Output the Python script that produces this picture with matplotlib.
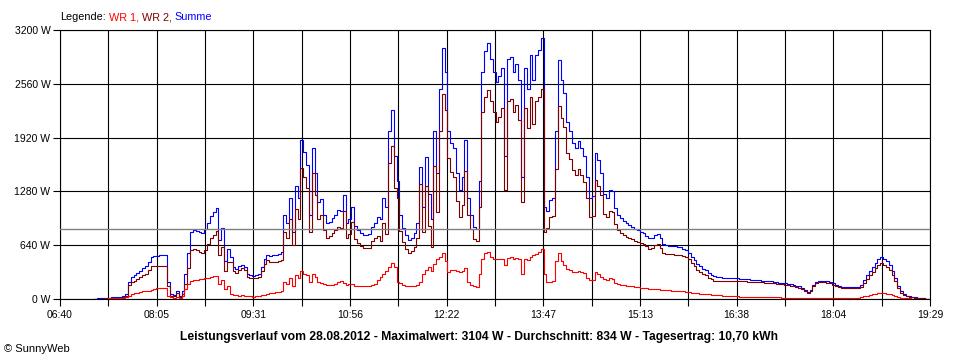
import numpy as np
import matplotlib.pyplot as plt

plt.rcParams['font.family'] = ['Liberation Sans', 'DejaVu Sans']

# Messwerte alle 2,5 Minuten ab 07:10 (eine Zeile = 30 Minuten)
start = 7 * 60 + 10
schritt = 2.5

wr1 = [
    3, 3, 4, 4, 5, 6, 8, 8, 9, 10, 12, 20,
    40, 60, 70, 72, 80, 90, 95, 100, 108, 115, 125, 130,
    130, 130, 40, 20, 15, 20, 15, 40, 120, 180, 220, 230,
    230, 235, 240, 245, 250, 260, 270, 275, 180, 230, 120, 160,
    60, 50, 45, 40, 45, 40, 35, 30, 28, 30, 35, 42,
    50, 60, 70, 75, 80, 83, 100, 200, 180, 250, 160, 280,
    250, 330, 300, 280, 200, 300, 260, 200, 190, 180, 170, 165,
    170, 180, 200, 210, 190, 170, 175, 180, 160, 150, 150, 150,
    150, 160, 170, 180, 230, 260, 300, 330, 380, 430, 380, 200,
    190, 170, 160, 150, 150, 160, 170, 200, 300, 350, 380, 330,
    420, 470, 500, 547, 450, 320, 345, 345, 330, 320, 330, 370,
    200, 170, 150, 145, 300, 470, 550, 560, 500, 480, 470, 480,
    480, 400, 490, 495, 480, 490, 470, 300, 480, 460, 500, 520,
    540, 560, 600, 300, 200, 200, 210, 450, 547, 450, 400, 360,
    340, 320, 320, 330, 320, 310, 250, 225, 230, 320, 300, 260,
    240, 230, 250, 240, 190, 180, 170, 165, 160, 155, 150, 145,
    140, 135, 130, 125, 122, 120, 118, 115, 112, 110, 108, 105,
    100, 100, 95, 92, 90, 85, 80, 75, 72, 70, 65, 62,
    60, 55, 52, 50, 45, 42, 40, 38, 36, 35, 33, 30,
    28, 27, 26, 25, 24, 23, 22, 21, 20, 20, 20, 19,
    19, 18, 18, 17, 17, 16, 16, 15, 15, 14, 12, 10,
    10, 12, 14, 15, 15, 15, 15, 15, 15, 14, 14, 13,
    13, 12, 12, 12, 12, 13, 15, 25, 35, 40, 45, 55,
    65, 70, 72, 70, 65, 55, 45, 35, 25, 15, 10, 8,
    6, 5, 4, 3, 2, 2, 1, 1,
]

summe = [
    5, 6, 8, 9, 11, 14, 18, 18, 21, 24, 32, 60,
    205, 260, 285, 310, 337, 370, 393, 444, 500, 507, 512, 523,
    523, 520, 200, 60, 45, 90, 40, 100, 300, 550, 800, 820,
    810, 800, 790, 830, 900, 990, 1035, 1080, 700, 850, 450, 600,
    500, 380, 360, 390, 410, 380, 300, 280, 275, 280, 300, 380,
    470, 520, 515, 520, 525, 540, 560, 1000, 900, 1200, 800, 1350,
    1200, 1890, 1750, 1600, 1000, 1800, 1500, 1150, 1190, 1000, 900, 920,
    960, 1000, 1060, 1050, 1240, 900, 950, 1100, 870, 820, 780, 760,
    760, 770, 860, 900, 980, 950, 1200, 1100, 2000, 2250, 1700, 1400,
    1000, 850, 760, 700, 720, 780, 900, 1570, 1100, 1690, 1250, 950,
    2000, 1500, 2500, 2990, 2700, 2000, 1850, 1800, 1500, 1300, 1450, 1890,
    1200, 1000, 860, 830, 1400, 2700, 2950, 3050, 2850, 2700, 2580, 2650,
    2750, 1700, 2850, 2880, 2700, 2800, 2600, 1450, 2750, 2500, 2900, 2600,
    2900, 2960, 3104, 1100, 1050, 1180, 1200, 2000, 2840, 2600, 2450, 2100,
    2000, 1850, 1800, 1880, 1800, 1700, 1450, 1200, 1220, 1740, 1650, 1500,
    1250, 1200, 1300, 1280, 1080, 1000, 960, 930, 900, 880, 860, 830,
    820, 800, 780, 750, 720, 730, 765, 770, 720, 660, 645, 635,
    630, 625, 620, 615, 600, 580, 550, 500, 460, 420, 390, 360,
    340, 310, 290, 270, 260, 258, 255, 252, 250, 250, 245, 245,
    240, 238, 235, 232, 230, 228, 225, 222, 220, 215, 212, 210,
    205, 200, 195, 190, 185, 180, 175, 170, 160, 150, 130, 105,
    85, 110, 170, 200, 215, 215, 215, 210, 200, 185, 165, 150,
    145, 140, 140, 138, 138, 140, 145, 170, 230, 280, 330, 380,
    430, 480, 500, 480, 450, 400, 330, 250, 150, 90, 60, 40,
    30, 25, 20, 15, 10, 8, 5, 3,
]

durchschnitt = 834
x_labels = ["06:40", "08:05", "09:31", "10:56", "12:22",
            "13:47", "15:13", "16:38", "18:04", "19:29"]
y_werte = [0, 640, 1280, 1920, 2560, 3200]
titel = ("Leistungsverlauf vom 28.08.2012 - Maximalwert: 3104 W - "
         "Durchschnitt: 834 W - Tagesertrag: 10,70 kWh")

wr1 = np.array(wr1)
summe = np.array(summe)
wr2 = summe - wr1
t = start + schritt * np.arange(len(summe))

t_min, t_max = 6 * 60 + 40, 19 * 60 + 29

fig = plt.figure(figsize=(9.6, 3.6), dpi=100)
ax = fig.add_axes([60 / 960, 61 / 360, 870 / 960, 269 / 360])

ax.plot(t, summe, color='#0000ff', lw=0.8, drawstyle='steps-post', zorder=3)
ax.plot(t, wr2, color='#800000', lw=0.8, drawstyle='steps-post', zorder=4)
ax.plot(t, wr1, color='#ff0000', lw=0.8, drawstyle='steps-post', zorder=5)
ax.axhline(durchschnitt, color='#808080', lw=1.0, zorder=6)

ax.set_xlim(t_min, t_max)
ax.set_ylim(0, 3200)
major = np.linspace(t_min, t_max, len(x_labels))
ax.set_xticks(major)
ax.set_xticklabels(x_labels)
ax.set_xticks((major[:-1] + major[1:]) / 2, minor=True)
ax.set_yticks(y_werte)
ax.set_yticklabels([f"{v} W" for v in y_werte])

ax.grid(True, which='both', axis='x', color='black', lw=0.8, zorder=1)
ax.grid(True, which='major', axis='y', color='black', lw=0.8, zorder=1)
ax.set_axisbelow(True)
ax.tick_params(which='both', direction='out', length=5, width=0.8,
               color='black', labelsize=7.5, pad=2)
ax.tick_params(axis='x', pad=3)
for s in ax.spines.values():
    s.set_linewidth(0.8)

# Legende oben links, mehrfarbig
r = fig.canvas.get_renderer()
x = 60
for text, farbe in [("Legende:", 'black'), ("WR 1,", '#ff0000'),
                    ("WR 2,", '#800000'), ("Summe", '#0000ff')]:
    tx = fig.text(x / 960, 1 - 17 / 360, text, color=farbe, fontsize=7.8, va='center')
    x += tx.get_window_extent(r).width + 3

fig.text(479 / 960, 1 - 337 / 360, titel, ha='center', va='center',
         fontsize=8.7, fontweight='bold')
fig.text(4 / 960, 1 - 349 / 360, "\u00a9 SunnyWeb", fontsize=8, va='center')

fig.savefig("out.png", dpi=100)
